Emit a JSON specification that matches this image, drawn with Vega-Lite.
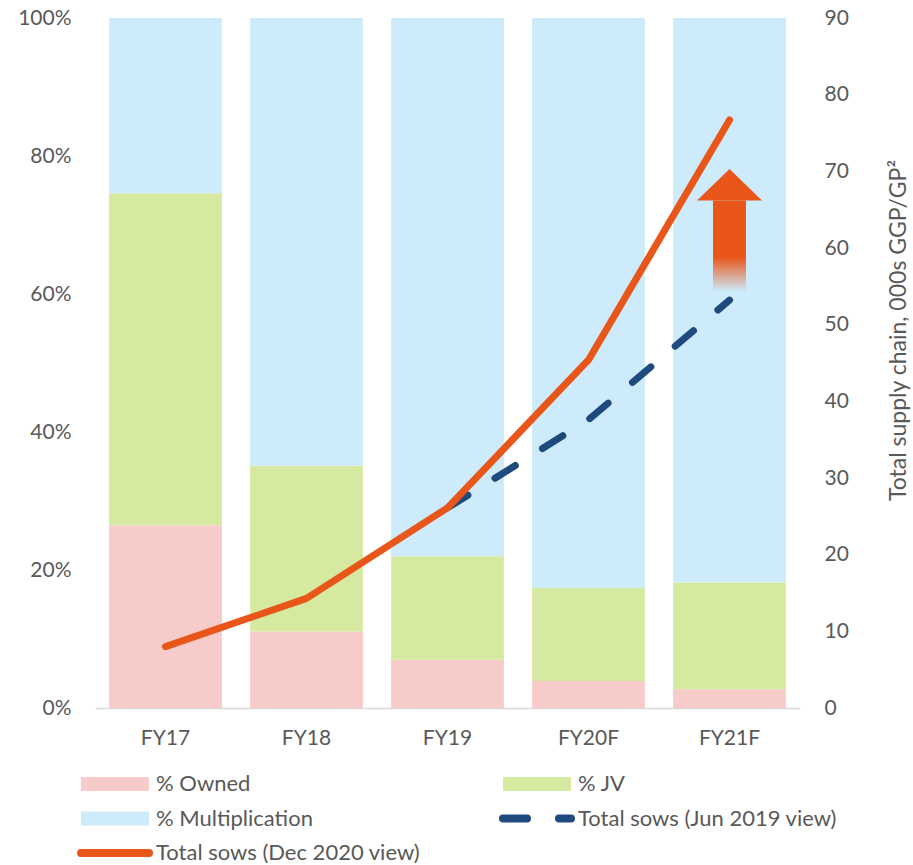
{
  "$schema": "https://vega.github.io/schema/vega-lite/v6.json",
  "width": 705,
  "height": 690,
  "autosize": "none",
  "padding": {"left": 95, "top": 18, "right": 113, "bottom": 157},
  "background": "white",
  "config": {
    "font": "Lato",
    "view": {"stroke": null},
    "axis": {"labelFont": "Lato", "labelFontSize": 21, "labelColor": "#595959", "grid": false, "ticks": false, "domain": false}
  },
  "datasets": {
    "shares": [
      {"year": "FY17", "series": "% Owned", "rank": 1, "pct": 26.5},
      {"year": "FY17", "series": "% JV", "rank": 2, "pct": 48.1},
      {"year": "FY17", "series": "% Multiplication", "rank": 3, "pct": 25.4},
      {"year": "FY18", "series": "% Owned", "rank": 1, "pct": 11.1},
      {"year": "FY18", "series": "% JV", "rank": 2, "pct": 24.0},
      {"year": "FY18", "series": "% Multiplication", "rank": 3, "pct": 64.9},
      {"year": "FY19", "series": "% Owned", "rank": 1, "pct": 7.0},
      {"year": "FY19", "series": "% JV", "rank": 2, "pct": 15.0},
      {"year": "FY19", "series": "% Multiplication", "rank": 3, "pct": 78.0},
      {"year": "FY20F", "series": "% Owned", "rank": 1, "pct": 3.9},
      {"year": "FY20F", "series": "% JV", "rank": 2, "pct": 13.5},
      {"year": "FY20F", "series": "% Multiplication", "rank": 3, "pct": 82.6},
      {"year": "FY21F", "series": "% Owned", "rank": 1, "pct": 2.7},
      {"year": "FY21F", "series": "% JV", "rank": 2, "pct": 15.5},
      {"year": "FY21F", "series": "% Multiplication", "rank": 3, "pct": 81.8}
    ],
    "jun2019": [
      {"year": "FY19", "series": "Total sows (Jun 2019 view)", "sows": 26.1},
      {"year": "FY20F", "series": "Total sows (Jun 2019 view)", "sows": 37.6},
      {"year": "FY21F", "series": "Total sows (Jun 2019 view)", "sows": 53.2}
    ],
    "dec2020": [
      {"year": "FY17", "series": "Total sows (Dec 2020 view)", "sows": 8.0},
      {"year": "FY18", "series": "Total sows (Dec 2020 view)", "sows": 14.3},
      {"year": "FY19", "series": "Total sows (Dec 2020 view)", "sows": 26.1},
      {"year": "FY20F", "series": "Total sows (Dec 2020 view)", "sows": 45.4},
      {"year": "FY21F", "series": "Total sows (Dec 2020 view)", "sows": 76.7}
    ],
    "arrow": [
      {"year": "FY21F", "tail": 54.3, "base": 66.2}
    ]
  },
  "encoding": {
    "x": {
      "field": "year",
      "type": "nominal",
      "sort": ["FY17", "FY18", "FY19", "FY20F", "FY21F"],
      "scale": {"domain": ["FY17", "FY18", "FY19", "FY20F", "FY21F"], "paddingInner": 0.2, "paddingOuter": 0.1},
      "axis": {"title": null, "labelAngle": 0, "domain": true, "domainColor": "#D9D9D9", "domainWidth": 1.5, "labelPadding": 19}
    }
  },
  "layer": [
    {
      "data": {"name": "shares"},
      "mark": {"type": "bar"},
      "encoding": {
        "y": {
          "field": "pct",
          "type": "quantitative",
          "stack": "zero",
          "scale": {"domain": [0, 100], "nice": false},
          "axis": {"orient": "left", "title": null, "values": [0, 20, 40, 60, 80, 100], "labelExpr": "datum.value + '%'", "labelPadding": 24}
        },
        "order": {"field": "rank", "type": "quantitative"},
        "color": {
          "field": "series",
          "type": "nominal",
          "scale": {
            "domain": ["% Owned", "% JV", "% Multiplication", "Total sows (Jun 2019 view)", "Total sows (Dec 2020 view)"],
            "range": ["#F8CBCB", "#D5EAA0", "#CDEBFA", "#1F4A7E", "#E8561A"]
          },
          "legend": {
            "title": null,
            "orient": "none",
            "direction": "horizontal",
            "legendX": -18,
            "legendY": 756,
            "columns": 2,
            "columnPadding": 78,
            "rowPadding": 12.5,
            "clipHeight": 20,
            "padding": 0,
            "symbolSize": 4624,
            "symbolOffset": 27,
            "labelFont": "Lato",
            "labelFontSize": 22,
            "labelColor": "#595959",
            "labelOffset": 30,
            "labelLimit": 500,
            "encode": {
              "symbols": {
                "update": {
                  "shape": {"signal": "indexof(['Total sows (Jun 2019 view)','Total sows (Dec 2020 view)'], datum.value) >= 0 ? 'M-1,0H1' : 'M-1,-0.206H1V0.206H-1Z'"},
                  "fill": {"signal": "indexof(['Total sows (Jun 2019 view)','Total sows (Dec 2020 view)'], datum.value) >= 0 ? 'transparent' : scale('color', datum.value)"},
                  "stroke": {"signal": "scale('color', datum.value)"},
                  "strokeWidth": {"signal": "indexof(['Total sows (Jun 2019 view)','Total sows (Dec 2020 view)'], datum.value) >= 0 ? 8 : 0"},
                  "strokeDash": {"signal": "datum.value == 'Total sows (Jun 2019 view)' ? [24, 32] : [1, 0]"},
                  "strokeCap": {"value": "round"},
                  "size": {"value": 4624},
                  "opacity": {"value": 1}
                }
              }
            }
          }
        }
      }
    },
    {
      "layer": [
        {
          "data": {"name": "jun2019"},
          "mark": {"type": "line", "strokeWidth": 7, "strokeDash": [24, 32], "strokeCap": "round", "strokeJoin": "round"},
          "encoding": {
            "y": {
              "field": "sows",
              "type": "quantitative",
              "scale": {"domain": [0, 90], "nice": false},
              "axis": {"orient": "right", "title": "Total supply chain, 000s GGP/GP²", "values": [0, 10, 20, 30, 40, 50, 60, 70, 80, 90], "labelPadding": 24, "titleFont": "Lato", "titleFontSize": 23, "titleFontWeight": "normal", "titleColor": "#595959", "titleAngle": 270, "titleX": 98, "titleY": 312, "titleAlign": "center", "titleBaseline": "middle"}
            },
            "color": {"field": "series", "type": "nominal"}
          }
        },
        {
          "data": {"name": "dec2020"},
          "mark": {"type": "line", "strokeWidth": 7, "strokeCap": "round", "strokeJoin": "round"},
          "encoding": {
            "y": {
              "field": "sows",
              "type": "quantitative",
              "scale": {"domain": [0, 90], "nice": false},
              "axis": {"orient": "right", "title": "Total supply chain, 000s GGP/GP²", "values": [0, 10, 20, 30, 40, 50, 60, 70, 80, 90], "labelPadding": 24, "titleFont": "Lato", "titleFontSize": 23, "titleFontWeight": "normal", "titleColor": "#595959", "titleAngle": 270, "titleX": 98, "titleY": 312, "titleAlign": "center", "titleBaseline": "middle"}
            },
            "color": {"field": "series", "type": "nominal"}
          }
        },
        {
          "data": {"name": "arrow"},
          "mark": {
            "type": "bar",
            "width": 33,
            "color": {
              "gradient": "linear",
              "x1": 0, "y1": 0, "x2": 0, "y2": 1,
              "stops": [
                {"offset": 0, "color": "#E8561A"},
                {"offset": 0.62, "color": "#E8561A"},
                {"offset": 1, "color": "rgba(232,86,26,0)"}
              ]
            }
          },
          "encoding": {
            "y": {
              "field": "base",
              "type": "quantitative",
              "scale": {"domain": [0, 90], "nice": false},
              "axis": {"orient": "right", "title": "Total supply chain, 000s GGP/GP²", "values": [0, 10, 20, 30, 40, 50, 60, 70, 80, 90], "labelPadding": 24, "titleFont": "Lato", "titleFontSize": 23, "titleFontWeight": "normal", "titleColor": "#595959", "titleAngle": 270, "titleX": 98, "titleY": 312, "titleAlign": "center", "titleBaseline": "middle"}
            },
            "y2": {"field": "tail"}
          }
        },
        {
          "data": {"name": "arrow"},
          "mark": {"type": "point", "shape": "M-1,0L1,0L0,-0.97Z", "filled": true, "opacity": 1, "size": 4225, "color": "#E8561A", "strokeWidth": 0},
          "encoding": {
            "y": {
              "field": "base",
              "type": "quantitative",
              "scale": {"domain": [0, 90], "nice": false},
              "axis": {"orient": "right", "title": "Total supply chain, 000s GGP/GP²", "values": [0, 10, 20, 30, 40, 50, 60, 70, 80, 90], "labelPadding": 24, "titleFont": "Lato", "titleFontSize": 23, "titleFontWeight": "normal", "titleColor": "#595959", "titleAngle": 270, "titleX": 98, "titleY": 312, "titleAlign": "center", "titleBaseline": "middle"}
            }
          }
        }
      ]
    }
  ],
  "resolve": {"scale": {"y": "independent"}}
}
